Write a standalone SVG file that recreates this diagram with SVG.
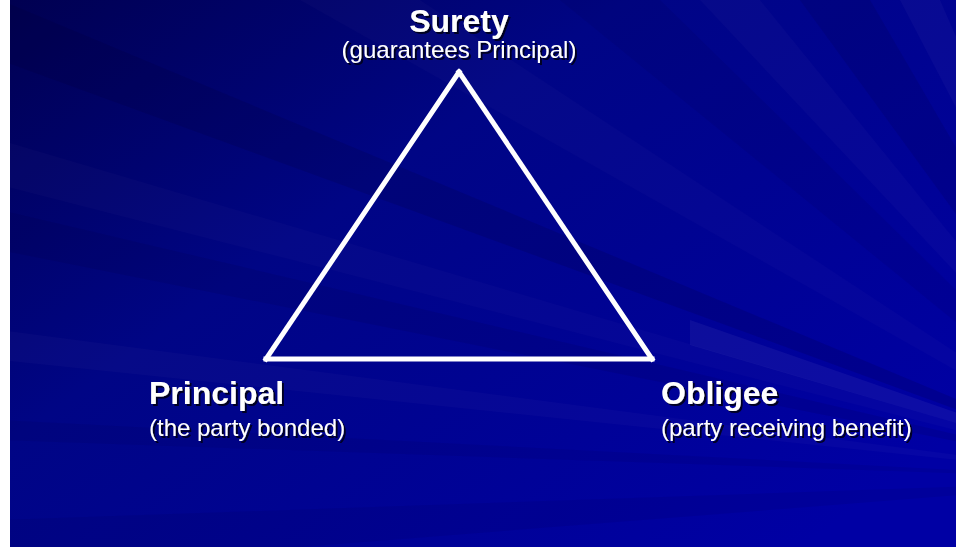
<svg xmlns="http://www.w3.org/2000/svg" width="956" height="547" viewBox="0 0 956 547">
  <defs>
    <linearGradient id="bg" x1="0" y1="0" x2="1" y2="0.8">
      <stop offset="0" stop-color="#000050"/>
      <stop offset="0.4" stop-color="#000585"/>
      <stop offset="1" stop-color="#0000a4"/>
    </linearGradient>
    <filter id="shadow" x="-10%" y="-30%" width="120%" height="160%">
      <feDropShadow dx="2" dy="2" stdDeviation="0.6" flood-color="#000018" flood-opacity="0.9"/>
    </filter>
  </defs>
  <style>
    .title { font-family: "Liberation Sans", Arial, sans-serif; font-weight: bold; font-size: 32px; fill: #ffffff; }
    .sub { font-family: "Liberation Sans", Arial, sans-serif; font-size: 24px; fill: #ffffff; }
    .edge { stroke: #ffffff; stroke-width: 5; stroke-linecap: square; fill: none; }
    .lite { fill: #ffffff; }
    .dark { fill: #000030; }
  </style>
  <rect x="0" y="0" width="956" height="547" fill="url(#bg)"/>
  <g id="rays">
    <polygon class="dark" opacity="0.15" points="1150,480 0,0 0,60"/>
    <polygon class="lite" opacity="0.02" points="1150,480 0,140 0,185"/>
    <polygon class="dark" opacity="0.1" points="1150,480 0,210 0,250"/>
    <polygon class="lite" opacity="0.025" points="1150,480 0,330 0,360"/>
    <polygon class="dark" opacity="0.08" points="1150,480 0,420 0,440"/>
    <polygon class="lite" opacity="0.02" points="1150,480 300,0 420,0"/>
    <polygon class="dark" opacity="0.08" points="1150,480 560,0 660,0"/>
    <polygon class="lite" opacity="0.025" points="1150,480 700,0 760,0"/>
    <polygon class="dark" opacity="0.12" points="1150,480 800,0 870,0"/>
    <polygon class="lite" opacity="0.03" points="1150,480 900,0 940,0"/>
    <polygon class="lite" opacity="0.05" points="1150,480 690,320 690,345"/>
    <polygon class="dark" opacity="0.08" points="1150,480 0,520 0,547 300,547"/>
  </g>
  <rect x="0" y="0" width="10" height="547" fill="#ffffff"/>
  <g id="connectors">
    <line class="edge" x1="459" y1="72" x2="266" y2="359"/>
    <line class="edge" x1="459" y1="72" x2="652" y2="359"/>
    <line class="edge" x1="266" y1="359" x2="652" y2="359"/>
  </g>
  <g id="surety" filter="url(#shadow)">
    <text class="title" x="459" y="32" text-anchor="middle">Surety</text>
    <text class="sub" x="459" y="58" text-anchor="middle">(guarantees Principal)</text>
  </g>
  <g id="principal" filter="url(#shadow)">
    <text class="title" x="149" y="404">Principal</text>
    <text class="sub" x="149" y="436">(the party bonded)</text>
  </g>
  <g id="obligee" filter="url(#shadow)">
    <text class="title" x="661" y="404">Obligee</text>
    <text class="sub" x="661" y="436">(party receiving benefit)</text>
  </g>
</svg>
